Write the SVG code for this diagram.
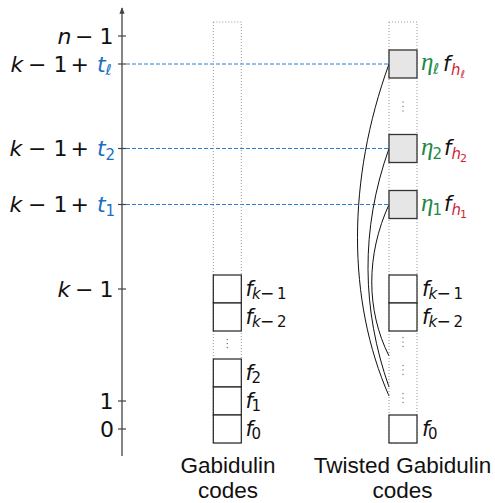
<svg xmlns="http://www.w3.org/2000/svg" width="495" height="503" viewBox="0 0 495 503">
<defs>
<style>
.m{font-family:"DejaVu Sans",sans-serif;font-size:21px;fill:#111}
.L{font-size:22px}
.i{font-style:italic}
.s{font-size:15px}
.sm{font-size:17px}
.ss{font-size:11px}
.b{fill:#1a6fc4}
.g{fill:#1d8b48}
.r{fill:#d11f35}
.eta{font-family:"Liberation Serif",serif;font-style:italic;font-size:25px}
.cap{font-family:"Liberation Sans",Arial,sans-serif;font-size:22.5px;fill:#111;text-anchor:middle}
.col{fill:none;stroke:#999;stroke-width:1;stroke-dasharray:1,2}
.box{fill:#fff;stroke:#222;stroke-width:1.2}
.gbox{fill:#e6e6e6;stroke:#333;stroke-width:1.3}
.dash{stroke:#2a80d6;stroke-width:1;stroke-dasharray:4,2;fill:none}
.tick{stroke:#444;stroke-width:1.2}
.cur{fill:none;stroke:#111;stroke-width:1}
.dot{fill:#777}
</style>
<marker id="ar" viewBox="0 0 10 10" refX="9" refY="5" markerWidth="5" markerHeight="5" orient="auto">
<path d="M0,1 L10,5 L0,9 z" fill="#444"/>
</marker>
</defs>

<g id="axis">
<line x1="122" y1="456" x2="122" y2="8" stroke="#444" stroke-width="1.3" marker-end="url(#ar)"/>
<line class="tick" x1="118" y1="36" x2="126" y2="36"/>
<line class="tick" x1="118" y1="64" x2="126" y2="64"/>
<line class="tick" x1="118" y1="148.5" x2="126" y2="148.5"/>
<line class="tick" x1="118" y1="204.5" x2="126" y2="204.5"/>
<line class="tick" x1="118" y1="289" x2="126" y2="289"/>
<line class="tick" x1="118" y1="401" x2="126" y2="401"/>
<line class="tick" x1="118" y1="429" x2="126" y2="429"/>
<text class="m L"><tspan class="i" x="57.5" y="43.5">n</tspan><tspan x="75" y="43.5">−</tspan><tspan x="99.5" y="43.5">1</tspan></text>
<text class="m L"><tspan class="i" x="10.5" y="71.5">k</tspan><tspan x="28" y="71.5">−</tspan><tspan x="53.5" y="71.5">1</tspan><tspan x="70.5" y="71.5">+</tspan><tspan class="i b" x="97" y="71.5">t</tspan><tspan class="s i b" x="105.5" y="75">ℓ</tspan></text>
<text class="m L"><tspan class="i" x="9.5" y="156">k</tspan><tspan x="28" y="156">−</tspan><tspan x="53.5" y="156">1</tspan><tspan x="70.5" y="156">+</tspan><tspan class="i b" x="97" y="156">t</tspan><tspan class="s b" x="105.5" y="159.5">2</tspan></text>
<text class="m L"><tspan class="i" x="9.5" y="212">k</tspan><tspan x="28" y="212">−</tspan><tspan x="53.5" y="212">1</tspan><tspan x="70.5" y="212">+</tspan><tspan class="i b" x="97" y="212">t</tspan><tspan class="s b" x="105.5" y="215.5">1</tspan></text>
<text class="m L"><tspan class="i" x="57.5" y="296.5">k</tspan><tspan x="75" y="296.5">−</tspan><tspan x="99.5" y="296.5">1</tspan></text>
<text class="m L" x="99.5" y="408.5">1</text>
<text class="m L" x="100" y="437">0</text>
</g>

<g id="connectors">
<line class="dash" x1="126" y1="64" x2="389" y2="64"/>
<line class="dash" x1="126" y1="148.5" x2="389" y2="148.5"/>
<line class="dash" x1="126" y1="204.5" x2="389" y2="204.5"/>
<path class="cur" d="M389,64 C347,180 347,300 389,396"/>
<path class="cur" d="M389,148.5 C360,230 362,310 389,387"/>
<path class="cur" d="M389,204.5 C366,255 366,310 389,356"/>
</g>

<g id="gabidulin">
<rect class="col" x="213.3" y="22" width="28" height="421"/>
<rect class="box" x="213.3" y="275" width="28" height="28"/>
<rect class="box" x="213.3" y="303" width="28" height="28"/>
<rect class="box" x="213.3" y="359" width="28" height="28"/>
<rect class="box" x="213.3" y="387" width="28" height="28"/>
<rect class="box" x="213.3" y="415" width="28" height="28"/>
<circle class="dot" cx="227.3" cy="339.5" r="0.7"/><circle class="dot" cx="227.3" cy="343.5" r="0.7"/><circle class="dot" cx="227.3" cy="347.5" r="0.7"/>
<text class="m"><tspan class="i" x="245.5" y="295.5">f</tspan><tspan class="s i" x="252" y="299">k</tspan><tspan class="sm" x="260" y="299">−</tspan><tspan class="s" x="277" y="299">1</tspan></text>
<text class="m"><tspan class="i" x="245.5" y="323.5">f</tspan><tspan class="s i" x="252" y="327">k</tspan><tspan class="sm" x="260" y="327">−</tspan><tspan class="s" x="277" y="327">2</tspan></text>
<text class="m"><tspan class="i" x="245.5" y="379.5">f</tspan><tspan class="s" x="251.5" y="383">2</tspan></text>
<text class="m"><tspan class="i" x="245.5" y="407.5">f</tspan><tspan class="s" x="251.5" y="411">1</tspan></text>
<text class="m"><tspan class="i" x="245.5" y="435.5">f</tspan><tspan class="s" x="251.5" y="439">0</tspan></text>
<text class="cap" x="228" y="473">Gabidulin</text>
<text class="cap" x="228" y="498">codes</text>
</g>

<g id="twisted">
<rect class="col" x="389" y="22" width="28" height="421"/>
<rect class="gbox" x="389" y="50" width="28" height="28"/>
<rect class="gbox" x="389" y="134.5" width="28" height="28"/>
<rect class="gbox" x="389" y="190.5" width="28" height="28"/>
<rect class="box" x="389" y="275" width="28" height="28"/>
<rect class="box" x="389" y="303" width="28" height="28"/>
<rect class="box" x="389" y="415" width="28" height="28"/>
<circle class="dot" cx="403" cy="102" r="0.7"/><circle class="dot" cx="403" cy="106.5" r="0.7"/><circle class="dot" cx="403" cy="111" r="0.7"/>
<circle class="dot" cx="403" cy="337.5" r="0.7"/><circle class="dot" cx="403" cy="342" r="0.7"/><circle class="dot" cx="403" cy="346.5" r="0.7"/>
<circle class="dot" cx="403" cy="365.5" r="0.7"/><circle class="dot" cx="403" cy="370" r="0.7"/><circle class="dot" cx="403" cy="374.5" r="0.7"/>
<circle class="dot" cx="403" cy="393.5" r="0.7"/><circle class="dot" cx="403" cy="398" r="0.7"/><circle class="dot" cx="403" cy="402.5" r="0.7"/>
<text class="m"><tspan class="eta g" x="421" y="70">η</tspan><tspan class="s i g" x="433" y="74">ℓ</tspan><tspan class="i" x="443" y="70.5">f</tspan><tspan class="s i r" x="451" y="74.5">h</tspan><tspan class="ss i r" x="460.5" y="77.5">ℓ</tspan></text>
<text class="m"><tspan class="eta g" x="421" y="154.5">η</tspan><tspan class="s g" x="432.5" y="158.5">2</tspan><tspan class="i" x="444" y="155">f</tspan><tspan class="s i r" x="451.5" y="159">h</tspan><tspan class="ss r" x="460" y="162">2</tspan></text>
<text class="m"><tspan class="eta g" x="421" y="210.5">η</tspan><tspan class="s g" x="432.5" y="214.5">1</tspan><tspan class="i" x="444" y="211">f</tspan><tspan class="s i r" x="451.5" y="215">h</tspan><tspan class="ss r" x="460" y="218">1</tspan></text>
<text class="m"><tspan class="i" x="422" y="295.5">f</tspan><tspan class="s i" x="428.5" y="299">k</tspan><tspan class="sm" x="436.5" y="299">−</tspan><tspan class="s" x="453.5" y="299">1</tspan></text>
<text class="m"><tspan class="i" x="422" y="323.5">f</tspan><tspan class="s i" x="428.5" y="327">k</tspan><tspan class="sm" x="436.5" y="327">−</tspan><tspan class="s" x="453.5" y="327">2</tspan></text>
<text class="m"><tspan class="i" x="422" y="435.5">f</tspan><tspan class="s" x="428" y="439">0</tspan></text>
<text class="cap" x="402.5" y="473">Twisted Gabidulin</text>
<text class="cap" x="402.5" y="498">codes</text>
</g>
</svg>
